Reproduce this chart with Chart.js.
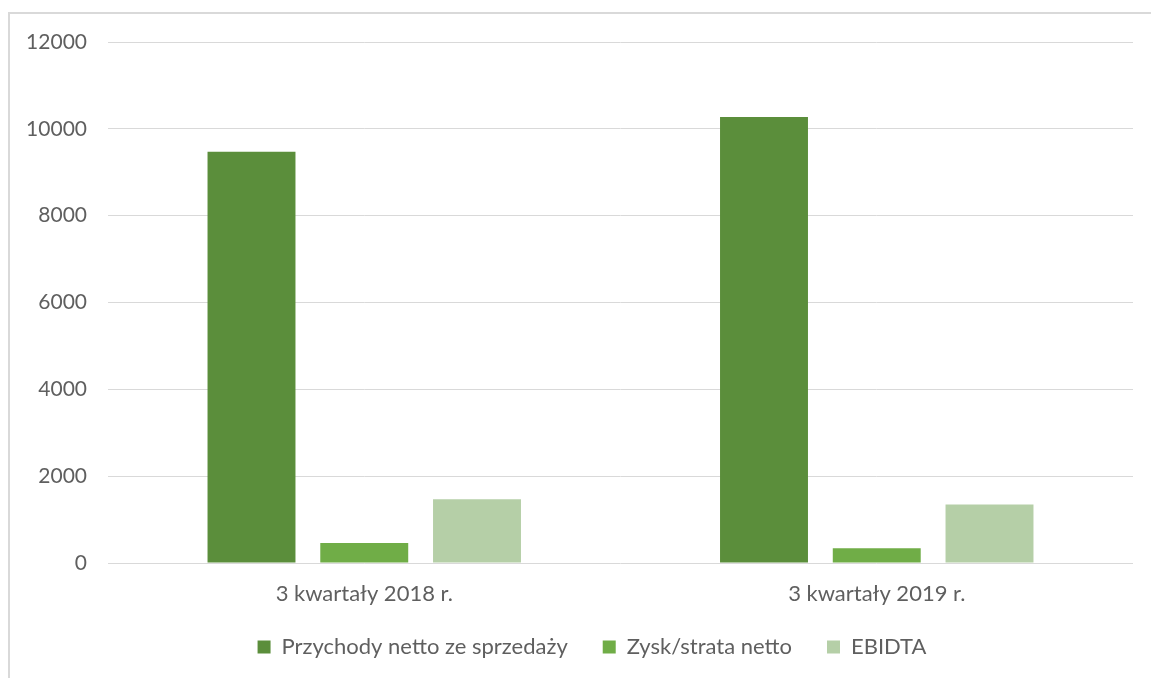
<!DOCTYPE html>
<html>
<head>
<meta charset="utf-8">
<script src="https://cdn.jsdelivr.net/npm/chart.js@4"></script>
<style>
  html, body { margin: 0; padding: 0; background: #ffffff; }
  #frame { position: absolute; left: 8px; top: 12px; width: 1200px; height: 700px; border-left: 2px solid #d9d9d9; border-top: 2px solid #d9d9d9; box-sizing: border-box; }
  #wrap { position: absolute; left: 0; top: 0; width: 1151px; height: 678px; }
</style>
</head>
<body>
<div id="frame"></div>
<div id="wrap"><canvas id="c" width="1151" height="678"></canvas></div>
<script>
const categories = ["3 kwartały 2018 r.", "3 kwartały 2019 r."];
const seriesNames = ["Przychody netto ze sprzedaży", "Zysk/strata netto", "EBIDTA"];
const przychody = [9470, 10270];
const zysk = [460, 340];
const ebidta = [1470, 1350];
const yTicks = [0, 2000, 4000, 6000, 8000, 10000, 12000];
const colors = ["#5b8e3b", "#70ad47", "#b5cfa7"];

const FONT = "Lato, 'Open Sans', sans-serif";

const placeLegend = {
  id: 'placeLegend',
  beforeDraw(chart) {
    const l = chart.legend;
    if (l) {
      const h = l.height;
      l.left = 0; l.right = 1184;
      l.top = 601; l.bottom = 601 + h;
    }
  }
};

new Chart(document.getElementById('c'), {
  type: 'bar',
  data: {
    labels: categories,
    datasets: [
      { label: seriesNames[0], data: przychody, backgroundColor: colors[0] },
      { label: seriesNames[1], data: zysk, backgroundColor: colors[1] },
      { label: seriesNames[2], data: ebidta, backgroundColor: colors[2] }
    ]
  },
  plugins: [placeLegend],
  options: {
    responsive: false,
    animation: false,
    events: [],
    layout: { padding: { top: 42, right: 18, left: 0, bottom: 0 } },
    datasets: { bar: { categoryPercentage: 0.66, barPercentage: 0.78 } },
    plugins: {
      legend: {
        position: 'bottom',
        labels: {
          color: '#5f5f5f',
          font: { family: FONT, size: 22 },
          boxWidth: 13,
          boxHeight: 13,
          padding: 35
        }
      },
      tooltip: { enabled: false }
    },
    scales: {
      x: {
        grid: { display: false, drawTicks: false },
        border: { display: false },
        ticks: { color: '#5f5f5f', font: { family: FONT, size: 22 }, padding: 18 },
        afterFit: (s) => { s.height = 48; }
      },
      y: {
        min: 0,
        max: 12000,
        afterBuildTicks: (s) => { s.ticks = yTicks.map(v => ({ value: v })); },
        grid: { color: '#d9d9d9', lineWidth: 1, drawTicks: false },
        border: { display: false },
        ticks: { color: '#5f5f5f', font: { family: FONT, size: 21 }, padding: 21, callback: (v) => String(v) },
        afterFit: (s) => { s.width = 108; }
      }
    }
  }
});
</script>
</body>
</html>
